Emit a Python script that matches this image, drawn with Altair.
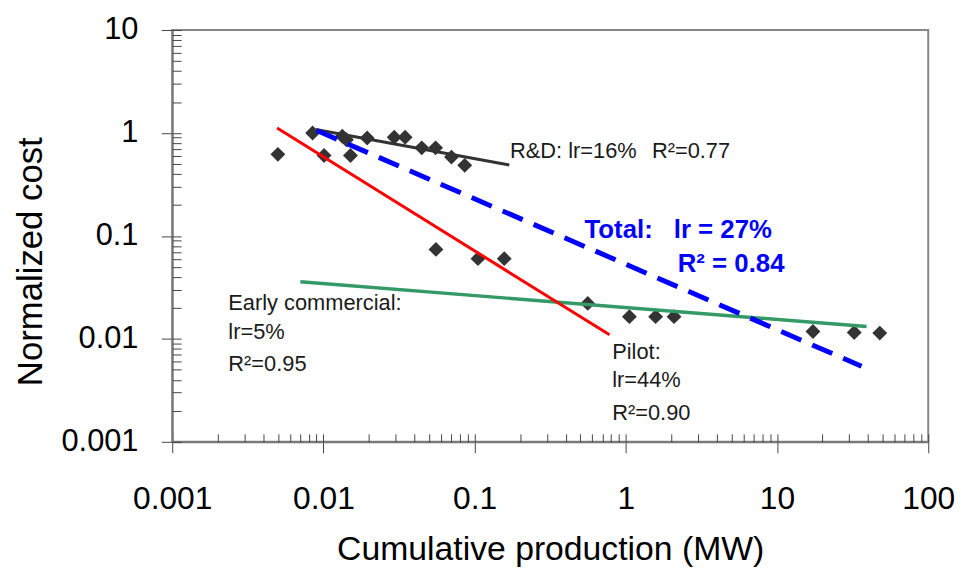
import altair as alt
import pandas as pd

FONT = "Liberation Sans"

# ---------------- data ----------------
prod = [0.0050, 0.00848, 0.0101, 0.01334, 0.0142, 0.0151, 0.01947, 0.0294, 0.0347,
        0.0447, 0.0552, 0.0703, 0.0860, 0.0555, 0.1052, 0.157, 0.560, 1.056, 1.574,
        2.084, 17.28, 32.4, 47.8]
cost = [0.62, 1.0, 0.605, 0.93, 0.86, 0.605, 0.895, 0.91, 0.91,
        0.717, 0.717, 0.583, 0.485, 0.074, 0.0601, 0.0601, 0.0221, 0.01644, 0.01644,
        0.01644, 0.01178, 0.01153, 0.01138]

rd_x = [0.00888, 0.1697]
rd_y = [1.079, 0.488]
pilot_x = [0.00494, 0.780]
pilot_y = [1.117, 0.01096]
total_x = [0.00905, 36.2]
total_y = [1.055, 0.00542]
early_x = [0.00704, 39.1]
early_y = [0.0358, 0.01318]

note_text = ["R&D: lr=16%", "R\u00b2=0.77", "Early commercial:", "lr=5%", "R\u00b2=0.95",
             "Pilot:", "lr=44%", "R\u00b2=0.90"]
note_x = [0.1715, 1.488, 0.00235, 0.00235, 0.00235, 0.813, 0.813, 0.813]
note_y = [0.570, 0.570, 0.0191, 0.01002, 0.00482, 0.00643, 0.003376, 0.00162]

total_text = ["Total:", "lr = 27%", "R\u00b2 = 0.84"]
total_tx = [0.533, 2.075, 2.204]
total_ty = [0.0965, 0.0965, 0.0444]

x_major = [0.001, 0.01, 0.1, 1, 10, 100]
y_major = [0.001, 0.01, 0.1, 1, 10]
x_minor = [m * 10.0 ** e for e in range(-3, 2) for m in range(1, 10)] + [100]
y_minor = [m * 10.0 ** e for e in range(-3, 1) for m in range(1, 10)] + [10]

# ---------------- frames ----------------
pts = pd.DataFrame({"x": prod, "y": cost})
rd = pd.DataFrame({"x": rd_x, "y": rd_y})
pilot = pd.DataFrame({"x": pilot_x, "y": pilot_y})
total = pd.DataFrame({"x": total_x, "y": total_y})
early = pd.DataFrame({"x": early_x, "y": early_y})
notes = pd.DataFrame({"x": note_x, "y": note_y, "t": note_text})
tnotes = pd.DataFrame({"x": total_tx, "y": total_ty, "t": total_text})

xs = alt.Scale(type="log", domain=[0.001, 100], nice=False)
ys = alt.Scale(type="log", domain=[0.001, 10], nice=False)

x_main_axis = alt.Axis(
    values=x_major, format="~g", orient="bottom", grid=False,
    tickSize=11, tickColor="#444", tickWidth=1,
    domainColor="#777", domainWidth=2,
    labelFont=FONT, labelFontSize=32, labelColor="#000", labelPadding=31,
    labelFlush=False, labelOverlap=False,
    title="Cumulative production (MW)", titleFont=FONT, titleFontSize=34,
    titleFontWeight="normal", titleColor="#000", titleY=119, titleBaseline="alphabetic",
)
y_main_axis = alt.Axis(
    values=y_major, format="~g", orient="left", grid=False,
    tickSize=11, tickColor="#444", tickWidth=1,
    domainColor="#777", domainWidth=2,
    labelFont=FONT, labelFontSize=31, labelColor="#000", labelPadding=23.5,
    labelFlush=False, labelOverlap=False,
    title="Normalized cost", titleFont=FONT, titleFontSize=35,
    titleFontWeight="normal", titleColor="#000", titleX=-132, titleY=233,
    titleBaseline="alphabetic",
)
x_minor_axis = alt.Axis(
    values=x_minor, orient="bottom", offset=-8, tickSize=8, tickColor="#444",
    tickWidth=1, labels=False, domain=False, grid=False, title="",
)
y_minor_axis = alt.Axis(
    values=y_minor, orient="left", offset=-9, tickSize=9, tickColor="#444",
    tickWidth=1, labels=False, domain=False, grid=False, title="",
)

points = alt.Chart(pts).mark_point(
    shape="diamond", filled=True, color="#333333", size=225, opacity=1
).encode(
    x=alt.X("x:Q", scale=xs, axis=x_main_axis),
    y=alt.Y("y:Q", scale=ys, axis=y_main_axis),
)

minor = alt.Chart(pts).mark_point(opacity=0).encode(
    x=alt.X("x:Q", scale=xs, axis=x_minor_axis),
    y=alt.Y("y:Q", scale=ys, axis=y_minor_axis),
)


def line(df, color, width, dash=None):
    kw = dict(color=color, strokeWidth=width, strokeCap="butt")
    if dash is not None:
        kw["strokeDash"] = dash
    return alt.Chart(df).mark_line(**kw).encode(
        x=alt.X("x:Q", scale=xs, axis=None),
        y=alt.Y("y:Q", scale=ys, axis=None),
    )


rd_line = line(rd, "#333333", 3)
pilot_line = line(pilot, "#FF0000", 3)
early_line = line(early, "#339966", 3.5)
total_line = line(total, "#0000FF", 5, [22, 12])

note_layer = alt.Chart(notes).mark_text(
    align="left", baseline="alphabetic", font=FONT, fontSize=22, color="#1a1a1a"
).encode(
    x=alt.X("x:Q", scale=xs, axis=None),
    y=alt.Y("y:Q", scale=ys, axis=None),
    text="t:N",
)
total_notes = alt.Chart(tnotes).mark_text(
    align="left", baseline="alphabetic", font=FONT, fontSize=26, fontWeight="bold",
    color="#0000FF"
).encode(
    x=alt.X("x:Q", scale=xs, axis=None),
    y=alt.Y("y:Q", scale=ys, axis=None),
    text="t:N",
)

chart = alt.layer(
    points, minor, early_line, pilot_line, rd_line, total_line, note_layer, total_notes
).resolve_axis(
    x="independent", y="independent"
).properties(
    width=762, height=415,
    autosize=alt.AutoSizeParams(type="none"),
    padding={"left": 165.5, "top": 20, "right": 30, "bottom": 127},
    background="white",
).configure_view(
    stroke="#888888", strokeWidth=2
)

chart.save("out.html", embed_options={"renderer": "svg", "actions": False})
